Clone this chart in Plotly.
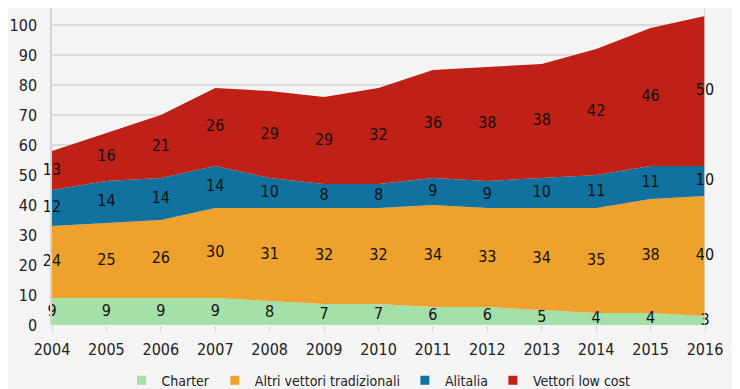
import plotly.graph_objects as go

years = [2004, 2005, 2006, 2007, 2008, 2009, 2010, 2011, 2012, 2013, 2014, 2015, 2016]
charter = [9, 9, 9, 9, 8, 7, 7, 6, 6, 5, 4, 4, 3]
altri = [24, 25, 26, 30, 31, 32, 32, 34, 33, 34, 35, 38, 40]
alitalia = [12, 14, 14, 14, 10, 8, 8, 9, 9, 10, 11, 11, 10]
lowcost = [13, 16, 21, 26, 29, 29, 32, 36, 38, 38, 42, 46, 50]

names = ["Charter", "Altri vettori tradizionali", "Alitalia", "Vettori low cost"]
colors = ["#a6e0a9", "#eea12d", "#11719f", "#bf2116"]
series = [charter, altri, alitalia, lowcost]

FONT = "DejaVu Sans Condensed, Roboto, sans-serif"
BG = "#f4f4f4"

fig = go.Figure()
base = [0] * len(years)
for name, col, vals in zip(names, colors, series):
    fig.add_trace(go.Scatter(
        x=years, y=vals, stackgroup="one", mode="none",
        fillcolor=col, line=dict(width=0), name=name, showlegend=False,
        hoverinfo="skip"))
    mids = [b + v / 2 for b, v in zip(base, vals)]
    fig.add_trace(go.Scatter(
        x=years, y=mids, mode="text", text=[str(v) for v in vals],
        textposition="middle center", cliponaxis=False,
        textfont=dict(family=FONT, size=16, color="#111111"),
        showlegend=False, hoverinfo="skip"))
    base = [b + v for b, v in zip(base, vals)]

for name, col in zip(names, colors):
    fig.add_trace(go.Scatter(
        x=[None], y=[None], mode="markers", name=name,
        marker=dict(symbol="square", size=9, color=col)))

fig.add_shape(type="line", xref="x", yref="paper", x0=2016, x1=2016, y0=0, y1=1,
              line=dict(color="#d4d4d4", width=1.5), layer="above")

fig.update_layout(
    width=732, height=381,
    paper_bgcolor=BG, plot_bgcolor=BG,
    margin=dict(l=44, r=35, t=0, b=64, autoexpand=False),
    font=dict(family=FONT, size=16, color="#222222"),
    xaxis=dict(range=[2004, 2016], tickmode="array", tickvals=years,
               ticktext=[str(y) for y in years], showgrid=False, zeroline=False,
               ticks="outside", ticklen=6, tickcolor="#d4d4d4",
               ticklabelstandoff=4, showline=False),
    yaxis=dict(range=[0, 105.67], tickvals=list(range(0, 101, 10)),
               showgrid=True, gridcolor="#dcdcdc", gridwidth=1.5, zeroline=False,
               showline=True, linecolor="#d4d4d4", linewidth=1.5,
               ticks="", ticklabelstandoff=10),
    legend=dict(orientation="h", x=0.5, xanchor="center", y=-0.125, yanchor="top",
                font=dict(family=FONT, size=14, color="#222222"),
                itemwidth=30, traceorder="normal", bgcolor="rgba(0,0,0,0)",
                tracegroupgap=0),
    showlegend=True,
)

fig.write_html("out.html")
